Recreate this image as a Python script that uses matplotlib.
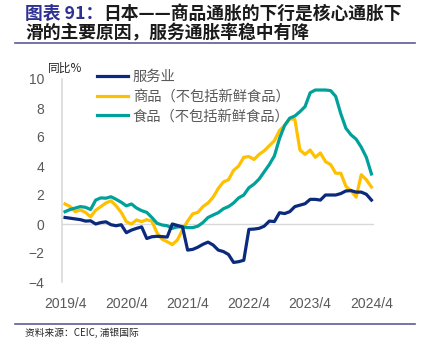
import matplotlib
matplotlib.use('Agg')
import matplotlib.pyplot as plt
from matplotlib.lines import Line2D
import numpy as np

plt.rcParams['font.family'] = ['Noto Sans CJK SC', 'DejaVu Sans']

# months from 2019/4 to 2024/4
tick_labels = ['2019/4', '2020/4', '2021/4', '2022/4', '2023/4', '2024/4']

services = [0.45, 0.4, 0.35, 0.3, 0.2, 0.22, 0.0, 0.1, 0.15, -0.05,
            -0.12, -0.05, -0.6, -0.42, -0.3, -0.2, -1.0, -0.88, -0.85, -0.87,
            -0.9, 0.0, -0.1, -0.2, -1.8, -1.75, -1.6, -1.4, -1.25, -1.45,
            -1.8, -1.9, -2.1, -2.65, -2.6, -2.5, -0.37, -0.35, -0.3, -0.15,
            0.2, 0.17, 0.78, 0.72, 0.85, 1.2, 1.3, 1.4, 1.7, 1.7,
            1.65, 2.0, 2.0, 2.0, 2.1, 2.28, 2.3, 2.2, 2.2, 2.05, 1.65]

goods = [1.38, 1.2, 0.85, 0.97, 0.8, 0.5, 0.95, 1.2, 1.45, 1.6,
         1.25, 0.8, 0.16, 0.0, 0.28, 0.16, 0.3, 0.2, -0.6, -1.05,
         -1.22, -1.42, -1.1, -0.4, 0.2, 0.7, 0.8, 1.2, 1.45, 1.85,
         2.45, 2.9, 3.05, 3.7, 4.0, 4.6, 4.65, 4.45, 4.8, 5.05,
         5.4, 5.75, 6.45, 6.8, 7.25, 7.22, 5.1, 4.8, 5.1, 4.6,
         4.9, 4.3, 4.1, 3.5, 3.5, 2.6, 2.3, 1.85, 3.4, 3.05, 2.55]

food = [0.85, 1.0, 1.1, 1.2, 1.15, 1.0, 1.65, 1.8, 1.78, 1.88,
        1.7, 1.5, 1.25, 1.38, 1.1, 0.92, 0.8, 0.45, 0.05, -0.07,
        -0.12, -0.3, -0.2, -0.2, -0.25, -0.25, -0.15, 0.1, 0.45, 0.62,
        0.78, 1.05, 1.2, 1.45, 1.8, 2.0, 2.5, 2.75, 3.1, 3.6,
        4.1, 4.7, 5.9, 6.8, 7.3, 7.45, 7.75, 8.1, 9.05, 9.24,
        9.24, 9.24, 9.2, 8.8, 7.6, 6.6, 6.15, 5.85, 5.3, 4.6, 3.45]

x = np.arange(len(services))

fig = plt.figure(figsize=(4.23, 3.42), dpi=100)
ax = fig.add_axes([62 / 423, 1 - 282 / 342, 312 / 423, 203 / 342])

ax.axhline(0, color='#D9D9D9', lw=1, zorder=1)
ax.plot(x, services, color='#0B2A7C', lw=2.3, label='服务业', zorder=3)
ax.plot(x, goods, color='#FFC000', lw=2.3, label='商品（不包括新鲜食品）', zorder=2)
ax.plot(x, food, color='#00A19A', lw=2.3, label='食品（不包括新鲜食品）', zorder=2)

ax.set_xlim(-0.6, 60.5)
ax.set_ylim(-4, 10)
ax.set_yticks(range(-4, 11, 2))
ax.set_xticks(range(0, 61, 12))
ax.set_xticklabels(tick_labels)
for lab in ax.get_xticklabels() + ax.get_yticklabels():
    lab.set_family('Liberation Sans')
    lab.set_fontsize(10)
    lab.set_color('#595959')
ax.tick_params(length=0)
ax.tick_params(axis='y', pad=13)
ax.tick_params(axis='x', pad=11)
for s in ['top', 'right', 'bottom']:
    ax.spines[s].set_visible(False)
ax.spines['left'].set_color('#D9D9D9')
ax.spines['left'].set_linewidth(1.2)

leg = ax.legend(loc='upper left', bbox_to_anchor=(97 / 423, 1 - 70 / 342),
                bbox_transform=fig.transFigure, frameon=False, fontsize=10.3,
                handlelength=2.2, handletextpad=0.3, labelspacing=0.4,
                borderpad=0, borderaxespad=0)
for t in leg.get_texts():
    t.set_color('#595959')

fig.text(48 / 423, 1 - 68 / 342, '同比%', fontsize=8.5, va='center',
         ha='left', color='#262626')

# title
t1 = fig.text(25 / 423, 1 - 14 / 342, '图表 91：', fontsize=12.8,
              fontweight='bold', color='#2E3192', va='center', ha='left')
ax.annotate('日本——商品通胀的下行是核心通胀下', xy=(1, 0), xycoords=t1,
            fontsize=12.8, fontweight='bold', color='#1A1A1A',
            va='bottom', ha='left', annotation_clip=False)
fig.text(25 / 423, 1 - 33 / 342, '滑的主要原因，服务通胀率稳中有降', fontsize=12.8,
         fontweight='bold', color='#1A1A1A', va='center', ha='left')

fig.add_artist(Line2D([15 / 423, 415 / 423], [1 - 42.5 / 342] * 2,
                      transform=fig.transFigure, color='#5B5B9B', lw=1.2))
fig.add_artist(Line2D([15 / 423, 415 / 423], [1 - 323.5 / 342] * 2,
                      transform=fig.transFigure, color='#5B5B9B', lw=1.2))

fig.text(25 / 423, 1 - 333 / 342, '资料来源：CEIC, 浦银国际', fontsize=7,
         va='center', ha='left', color='#262626')

fig.savefig('out.png', dpi=100)
